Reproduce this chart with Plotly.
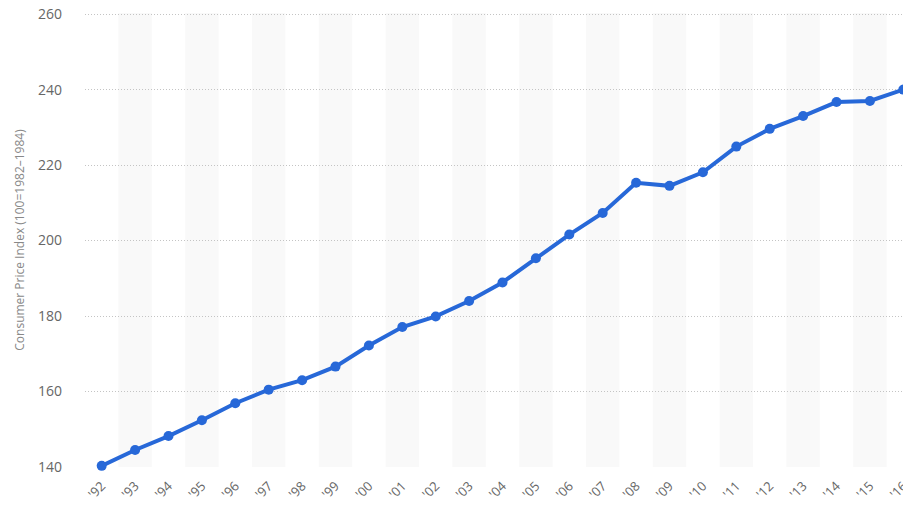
import plotly.graph_objects as go

years = ["'92", "'93", "'94", "'95", "'96", "'97", "'98", "'99", "'00", "'01", "'02", "'03",
         "'04", "'05", "'06", "'07", "'08", "'09", "'10", "'11", "'12", "'13", "'14", "'15", "'16"]
cpi = [140.3, 144.5, 148.2, 152.4, 156.9, 160.5, 163.0, 166.6, 172.2, 177.1, 179.9, 184.0,
       188.9, 195.3, 201.6, 207.3, 215.3, 214.5, 218.1, 224.9, 229.6, 233.0, 236.7, 237.0, 240.0]
y_ticks = [140, 160, 180, 200, 220, 240, 260]

fig = go.Figure()

shapes = []
for i in range(1, len(years), 2):
    shapes.append(dict(type="rect", xref="x", yref="paper", x0=i - 0.5, x1=i + 0.5, y0=0, y1=1,
                       fillcolor="#f9f9f9", line_width=0, layer="below"))

fig.add_trace(go.Scatter(
    x=list(range(len(years))), y=cpi, mode="lines+markers",
    line=dict(color="#2768d8", width=4),
    marker=dict(color="#2768d8", size=10),
    hoverinfo="x+y",
    cliponaxis=False,
))

fig.update_layout(
    width=911, height=506,
    margin=dict(l=77, r=9, t=5, b=47),
    plot_bgcolor="white", paper_bgcolor="white",
    shapes=shapes,
    showlegend=False,
    font=dict(family="Open Sans, DejaVu Sans, sans-serif", color="#666666"),
    xaxis=dict(
        range=[-0.5, 24.2], automargin=False,
        tickmode="array", tickvals=list(range(len(years))), ticktext=years,
        tickangle=-45, tickfont=dict(size=13, color="#666666"),
        showgrid=False, zeroline=False, showline=False, ticks="",
        ticklabelstandoff=8, ticklabeloverflow="allow",
    ),
    yaxis=dict(
        range=[140, 260.3], tickvals=y_ticks, automargin=False,
        tickfont=dict(size=14, color="#666666"),
        showgrid=True, gridcolor="#c4c4c4", griddash="1px,2px", gridwidth=1,
        zeroline=False, showline=False, ticks="", ticklabelstandoff=22,
        ticklabeloverflow="allow",
        title=dict(text="Consumer Price Index (100=1982–1984)", font=dict(size=12, color="#888888"), standoff=10),
    ),
)

fig.write_html("out.html")
